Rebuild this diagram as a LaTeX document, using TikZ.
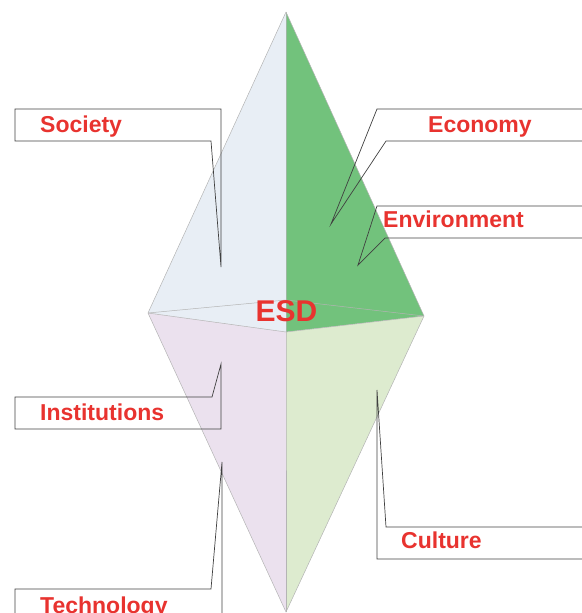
\documentclass[tikz,border=0pt]{standalone}
\usepackage{fontspec}
\setmainfont{Liberation Sans}
\usetikzlibrary{positioning}

\definecolor{esdred}{HTML}{E8332F}
\definecolor{edgegray}{HTML}{B4B4B4}
\definecolor{skyface}{HTML}{E8EEF5}
\definecolor{greenface}{HTML}{72C27C}
\definecolor{lilacface}{HTML}{EBE1EE}
\definecolor{paleface}{HTML}{DDEBCF}

\begin{document}
\begin{tikzpicture}[
    x=1pt, y=-1pt,
    edge/.style={draw=edgegray, line width=0.5pt, line join=round},
    callout/.style={draw=black!75, line width=0.7pt, line join=miter},
    tag/.style={anchor=base west, inner sep=0pt, text=esdred, font=\fontsize{23}{26}\selectfont\bfseries},
    hub/.style={anchor=base, inner sep=0pt, text=esdred, font=\fontsize{30}{34}\selectfont\bfseries}
]
\useasboundingbox (0,0) rectangle (581,613);

% Diamond corners
\coordinate (top) at (286,12);
\coordinate (left) at (148,313);
\coordinate (right) at (424,316);
\coordinate (front) at (286,332);
\coordinate (back) at (286,300);
\coordinate (bottom) at (286,612);

% Faces
\fill[skyface] (top) -- (left) -- (front) -- cycle;
\fill[greenface] (top) -- (front) -- (right) -- cycle;
\fill[lilacface] (left) -- (front) -- (bottom) -- cycle;
\fill[paleface] (front) -- (right) -- (bottom) -- cycle;

% Edges
\draw[edge] (top) -- (left) -- (bottom) -- (right) -- cycle;
\draw[edge] (top) -- (front) -- (bottom);
\draw[edge] (left) -- (back) -- (right);
\draw[edge] (left) -- (front) -- (right);

\node[hub] (esd) at (286.5,321.7) {ESD};

% Callout tips
\coordinate (society tip) at (221,267);
\coordinate (economy tip) at (331,224);
\coordinate (environment tip) at (358,265);
\coordinate (institutions tip) at (221,364);
\coordinate (technology tip) at (222,462);
\coordinate (culture tip) at (377,390);

% Left callouts
\node[tag] (society) at (40,132.7) {Society};
\draw[callout] (15,109) -- (221,109) -- (society tip) -- (211,141) -- (15,141) -- cycle;

\node[tag] (institutions) at (40,420) {Institutions};
\draw[callout] (15,397) -- (212,397) -- (institutions tip) -- (221,429) -- (15,429) -- cycle;

\node[tag] (technology) at (40,613.4) {Technology};
\draw[callout] (15,625) -- (15,589) -- (211,589) -- (technology tip) -- (222,625);

% Right callouts
\node[tag] (economy) at (428,132.7) {Economy};
\draw[callout] (590,109) -- (377,109) -- (economy tip) -- (386,141) -- (590,141);

\node[tag] (environment) at (383,227.7) {Environment};
\draw[callout] (590,206) -- (377,206) -- (environment tip) -- (385,238) -- (590,238);

\node[tag] (culture) at (401,548) {Culture};
\draw[callout] (590,527) -- (386,527) -- (culture tip) -- (377,559) -- (590,559);

\end{tikzpicture}
\end{document}
